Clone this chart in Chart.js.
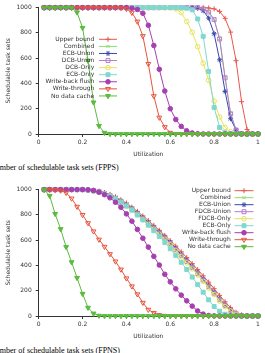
<!DOCTYPE html>
<html>
<head>
<meta charset="utf-8">
<script src="https://cdn.jsdelivr.net/npm/chart.js@4.4.0/dist/chart.umd.min.js"></script>
<style>
  html, body { margin: 0; padding: 0; background: #fff; overflow: hidden; }
  body { width: 265px; height: 353px; position: relative; }
  .box { position: absolute; left: 0; width: 265px; height: 160px; }
  .caption { position: absolute; left: -10px; font-family: "Liberation Serif", serif; font-size: 8px;
             line-height: 10px; color: #000; white-space: nowrap; }
</style>
</head>
<body>
<div class="box" style="top:0"><canvas id="fpps" width="265" height="160"></canvas></div>
<div class="caption" style="top:163px">Number of schedulable task sets (FPPS)</div>
<div class="box" style="top:182px"><canvas id="fpns" width="265" height="160"></canvas></div>
<div class="caption" style="top:346px">Number of schedulable task sets (FPNS)</div>
<script>
// utilization steps (x values)
const util = [0.025, 0.05, 0.075, 0.1, 0.125, 0.15, 0.175, 0.2, 0.225, 0.25,
              0.275, 0.3, 0.325, 0.35, 0.375, 0.4, 0.425, 0.45, 0.475, 0.5,
              0.525, 0.55, 0.575, 0.6, 0.625, 0.65, 0.675, 0.7, 0.725, 0.75,
              0.775, 0.8, 0.825, 0.85, 0.875, 0.9, 0.925, 0.95, 0.975, 1.0];
const xTicks = [0, 0.2, 0.4, 0.6, 0.8, 1];
const yTicks = [0, 200, 400, 600, 800, 1000];

const labelsFPPS = ['Upper bound', 'Combined', 'ECB-Union', 'DCB-Union', 'DCB-Only', 'ECB-Only',
                    'Write-back flush', 'Write-through', 'No data cache'];
const labelsFPNS = ['Upper bound', 'Combined', 'ECB-Union', 'FDCB-Union', 'FDCB-Only', 'ECB-Only',
                    'Write-back flush', 'Write-through', 'No data cache'];

// ---- FPPS ----
const upperFPPS    = [1000,1000,1000,1000,1000,1000,1000,1000,1000,1000,1000,1000,1000,1000,1000,1000,1000,1000,1000,1000,
                      1000,1000,1000,1000,1000,1000,1000,1000,1000,1000,997,990,970,915,806,580,256,36,2,0];
const combinedFPPS = [1000,1000,1000,1000,1000,1000,1000,1000,1000,1000,1000,1000,1000,1000,1000,1000,1000,1000,1000,1000,
                      1000,1000,1000,1000,1000,1000,1000,1000,1000,992,968,906,755,448,162,32,3,0,0,0];
const ecbUnionFPPS = [1000,1000,1000,1000,1000,1000,1000,1000,1000,1000,1000,1000,1000,1000,1000,1000,1000,1000,1000,1000,
                      1000,1000,1000,1000,1000,1000,1000,1000,995,975,917,793,587,336,121,31,3,0,0,0];
const dcbUnionFPPS = [1000,1000,1000,1000,1000,1000,1000,1000,1000,1000,1000,1000,1000,1000,1000,1000,1000,1000,1000,1000,
                      1000,1000,1000,1000,1000,1000,1000,1000,1000,990,965,905,752,444,160,31,3,0,0,0];
const dcbOnlyFPPS  = [1000,1000,1000,1000,1000,1000,1000,1000,1000,1000,1000,1000,1000,1000,1000,1000,1000,1000,1000,1000,
                      1000,1000,1000,1000,990,960,890,805,690,560,425,260,135,52,18,3,0,0,0,0];
const ecbOnlyFPPS  = [1000,1000,1000,1000,1000,1000,1000,1000,1000,1000,1000,1000,1000,1000,1000,1000,1000,1000,1000,1000,
                      1000,1000,1000,1000,1000,1000,995,982,910,773,495,210,52,10,1,0,0,0,0,0];
const wbFlushFPPS  = [1000,1000,1000,1000,1000,1000,1000,1000,1000,1000,1000,1000,1000,1000,1000,1000,995,985,955,860,
                      700,512,340,200,115,60,25,8,2,0,0,0,0,0,0,0,0,0,0,0];
const wtFPPS       = [1000,1000,1000,1000,1000,1000,1000,1000,1000,1000,1000,1000,1000,1000,1000,990,960,890,775,555,
                      300,130,55,10,1,0,0,0,0,0,0,0,0,0,0,0,0,0,0,0];
const noCacheFPPS  = [1000,1000,1000,1000,1000,1000,962,840,580,250,64,10,1,0,0,0,0,0,0,0,
                      0,0,0,0,0,0,0,0,0,0,0,0,0,0,0,0,0,0,0,0];

// ---- FPNS ----
const upperFPNS    = [1000,1000,1000,1000,1000,1000,1000,1000,999,995,988,977,962,943,920,893,862,828,792,755,
                      717,678,638,596,553,508,462,415,367,318,268,216,163,112,66,30,9,2,0,0];
const combinedFPNS = [1000,1000,1000,1000,1000,1000,1000,1000,998,994,986,974,958,938,913,884,854,819,782,744,
                      706,668,628,585,538,490,443,395,346,296,244,192,139,91,49,19,5,1,0,0];
const ecbUnionFPNS = [1000,1000,1000,1000,1000,1000,1000,1000,998,993,985,972,955,935,910,880,850,815,778,740,
                      702,665,625,582,535,487,440,392,343,293,240,188,135,88,47,18,5,1,0,0];
const fdcbUnionFPNS= [1000,1000,1000,1000,1000,1000,1000,1000,997,992,983,970,952,931,905,875,844,808,771,733,
                      695,657,617,574,527,479,432,384,335,285,232,180,128,82,43,16,4,1,0,0];
const fdcbOnlyFPNS = [1000,1000,1000,1000,1000,1000,1000,1000,996,990,980,966,948,926,899,868,836,800,762,724,
                      686,647,607,564,517,469,421,373,324,274,221,169,118,74,38,13,3,0,0,0];
const ecbOnlyFPNS  = [1000,1000,1000,1000,1000,1000,1000,1000,996,990,980,965,948,925,900,870,838,800,760,718,
                      675,630,582,532,480,425,368,308,248,188,128,75,38,14,4,1,0,0,0,0];
const wbFlushFPNS  = [1000,1000,1000,1000,1000,1000,1000,1000,998,992,980,960,935,900,860,808,750,685,615,545,
                      472,403,330,270,215,165,120,78,40,15,4,1,0,0,0,0,0,0,0,0];
const wtFPNS       = [1000,1000,998,993,975,930,865,800,735,670,605,548,490,432,368,298,235,172,105,50,
                      25,8,2,0,0,0,0,0,0,0,0,0,0,0,0,0,0,0,0,0];
const noCacheFPNS  = [1000,951,808,688,546,426,302,176,66,20,3,0,0,0,0,0,0,0,0,0,
                      0,0,0,0,0,0,0,0,0,0,0,0,0,0,0,0,0,0,0,0];

// line/marker look of each series, same order as the labels
const styles = [
  {color: '#e8574c', pointStyle: 'cross',    radius: 2.5, fill: false},
  {color: '#8fdc6e', pointStyle: 'crossRot', radius: 2.2, fill: false},
  {color: '#3848b0', pointStyle: 'star',     radius: 2.5, fill: false},
  {color: '#b87ccc', pointStyle: 'rect',     radius: 2.8, fill: false},
  {color: '#e6e35a', pointStyle: 'circle',   radius: 2.3, fill: false},
  {color: '#7fd8cf', pointStyle: 'rect',     radius: 2.8, fill: true},
  {color: '#a63fb0', pointStyle: 'circle',   radius: 2.3, fill: true},
  {color: '#e6553e', pointStyle: 'triangle', radius: 2.8, fill: false, rot: 180},
  {color: '#5bbb3f', pointStyle: 'triangle', radius: 2.8, fill: true,  rot: 180}
];

const FONT = {family: 'DejaVu Sans', size: 6};
const TXT = '#333';

function makeDatasets(labels, series) {
  return labels.map((lab, i) => {
    const s = styles[i];
    return {
      label: lab,
      data: util.map((u, k) => ({x: u, y: series[i][k]})),
      borderColor: s.color,
      borderWidth: 1,
      pointStyle: s.pointStyle,
      pointRadius: s.radius,
      pointRotation: s.rot || 0,
      pointBorderColor: s.color,
      pointBackgroundColor: s.fill ? s.color : 'rgba(0,0,0,0)',
      pointBorderWidth: 1,
      tension: 0,
      clip: false,
      order: labels.length - i   // gnuplot draws later curves on top
    };
  });
}

// gnuplot-like key drawn inside the plot
const insideKey = {
  id: 'insideKey',
  afterDatasetsDraw(chart, args, o) {
    const ctx = chart.ctx;
    ctx.save();
    ctx.font = '6px "DejaVu Sans"';
    ctx.textAlign = 'right';
    ctx.textBaseline = 'middle';
    chart.data.datasets.forEach((ds, i) => {
      const y = o.top + i * o.step;
      ctx.fillStyle = TXT;
      ctx.fillText(ds.label, o.textRight, y);
      ctx.strokeStyle = ds.borderColor;
      ctx.lineWidth = 1;
      ctx.beginPath();
      ctx.moveTo(o.x0, y);
      ctx.lineTo(o.x1, y);
      ctx.stroke();
      ctx.fillStyle = ds.pointBackgroundColor;
      Chart.helpers.drawPoint(ctx, {pointStyle: ds.pointStyle, radius: ds.pointRadius,
                                    rotation: ds.pointRotation, borderWidth: 1}, (o.x0 + o.x1) / 2, y);
    });
    ctx.restore();
  }
};

function makeChart(id, labels, series, key) {
  new Chart(document.getElementById(id), {
    type: 'line',
    data: {datasets: makeDatasets(labels, series)},
    plugins: [insideKey],
    options: {
      responsive: false,
      animation: false,
      layout: {padding: {top: 5, right: 7, left: 0, bottom: 0}},
      plugins: {legend: {display: false}, tooltip: {enabled: false}, insideKey: key},
      scales: {
        x: {
          type: 'linear', min: 0, max: 1,
          afterBuildTicks: s => { s.ticks = xTicks.map(v => ({value: v})); },
          afterFit: s => { s.height = 26; },
          ticks: {font: FONT, color: TXT, padding: 2, maxRotation: 0, callback: v => String(v)},
          grid: {drawOnChartArea: false, tickLength: 3, color: TXT},
          border: {color: TXT, width: 1},
          title: {display: true, text: 'Utilization', font: FONT, color: TXT, padding: {top: 0, bottom: 2.4}}
        },
        y: {
          min: 0, max: 1000,
          afterBuildTicks: s => { s.ticks = yTicks.map(v => ({value: v})); },
          afterFit: s => { s.width = 38.7; },
          ticks: {font: FONT, color: TXT, padding: 4, callback: v => String(v)},
          grid: {drawOnChartArea: false, tickLength: 3, color: TXT},
          border: {color: TXT, width: 1},
          title: {display: true, text: 'Schedulable task sets', font: FONT, color: TXT, padding: {top: 4.7, bottom: 0}}
        }
      }
    }
  });
}

makeChart('fpps', labelsFPPS,
  [upperFPPS, combinedFPPS, ecbUnionFPPS, dcbUnionFPPS, dcbOnlyFPPS, ecbOnlyFPPS, wbFlushFPPS, wtFPPS, noCacheFPPS],
  {top: 39.3, step: 7.08, textRight: 94.3, x0: 99, x1: 117});
makeChart('fpns', labelsFPNS,
  [upperFPNS, combinedFPNS, ecbUnionFPNS, fdcbUnionFPNS, fdcbOnlyFPNS, ecbOnlyFPNS, wbFlushFPNS, wtFPNS, noCacheFPNS],
  {top: 8.7, step: 7.0, textRight: 230.7, x0: 234.5, x1: 253.5});
</script>
</body>
</html>
